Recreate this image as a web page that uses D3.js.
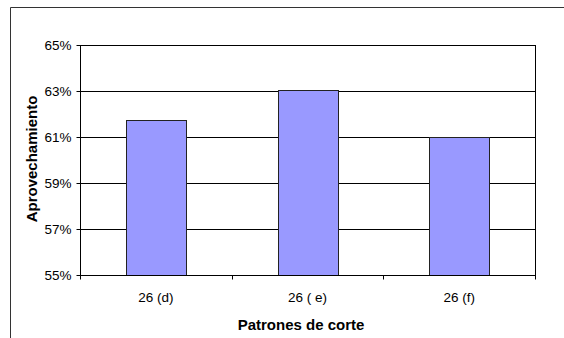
<!DOCTYPE html>
<html>
<head>
<meta charset="utf-8">
<script src="https://cdn.jsdelivr.net/npm/d3@7"></script>
<style>
  html, body { margin: 0; padding: 0; background: #fff; }
  svg { display: block; font-family: Arial, "Liberation Sans", sans-serif; }
</style>
</head>
<body>
<svg id="chart" width="564" height="338"></svg>
<script>
// Aprovechamiento por patrón de corte
const categories = ["26 (d)", "26 ( e)", "26 (f)"];
const values = [0.6172, 0.6306, 0.6101];
const yTicks = [0.55, 0.57, 0.59, 0.61, 0.63, 0.65];
const yTitle = "Aprovechamiento";
const xTitle = "Patrones de corte";

const svg = d3.select("#chart");
const W = 564, H = 338;
const plot = { left: 80, top: 45, right: 535, bottom: 275 };

// outer chart frame (left and top edges visible)
svg.append("path")
  .attr("d", `M10.5,${H} V7.5 H${W}`)
  .attr("fill", "none")
  .attr("stroke", "#333")
  .attr("stroke-width", 1);

const xOuter = d3.scaleBand()
  .domain(categories)
  .range([plot.left, plot.right])
  .padding(0);

const y = d3.scaleLinear()
  .domain([0.55, 0.65])
  .range([plot.bottom, plot.top]);

// horizontal gridlines
svg.append("g")
  .selectAll("line")
  .data(yTicks)
  .join("line")
  .attr("x1", plot.left)
  .attr("x2", plot.right)
  .attr("y1", d => Math.round(y(d)) + 0.5)
  .attr("y2", d => Math.round(y(d)) + 0.5)
  .attr("stroke", "#000")
  .attr("stroke-width", 1);

// right border of plot area
svg.append("line")
  .attr("x1", plot.right + 0.5).attr("x2", plot.right + 0.5)
  .attr("y1", plot.top).attr("y2", plot.bottom)
  .attr("stroke", "#000");

// bars
svg.append("g")
  .selectAll("rect")
  .data(values)
  .join("rect")
  .attr("x", (d, i) => Math.round(xOuter(categories[i]) + xOuter.bandwidth() / 2 - 30) + 0.5)
  .attr("width", 60)
  .attr("y", d => Math.round(y(d)) + 0.5)
  .attr("height", d => plot.bottom - Math.round(y(d)))
  .attr("fill", "#9999ff")
  .attr("stroke", "#222")
  .attr("stroke-width", 1);

// y axis
const yAxis = d3.axisLeft(y)
  .tickValues(yTicks)
  .tickFormat(d3.format(".0%"))
  .tickSize(4)
  .tickPadding(5);
const gy = svg.append("g")
  .attr("transform", `translate(${plot.left + 0.5},0)`)
  .call(yAxis);
gy.selectAll(".tick").attr("transform", d => `translate(0,${Math.round(y(d)) + 0.5})`);
gy.select(".domain").attr("d", `M0,${plot.top} V${plot.bottom + 0.5}`).attr("stroke", "#000");
gy.selectAll(".tick line").attr("stroke", "#000");
gy.selectAll(".tick text")
  .attr("font-size", 13.5)
  .attr("font-family", "Arial, 'Liberation Sans', sans-serif")
  .attr("fill", "#000");

// x axis: ticks at category boundaries
const gx = svg.append("g")
  .attr("transform", `translate(0,${plot.bottom + 0.5})`);
gx.append("line")
  .attr("x1", plot.left).attr("x2", plot.right + 1)
  .attr("stroke", "#000");
const bounds = categories.map(c => xOuter(c)).concat([plot.right]);
gx.selectAll("line.tk")
  .data(bounds)
  .join("line")
  .attr("class", "tk")
  .attr("x1", d => Math.round(d) + 0.5)
  .attr("x2", d => Math.round(d) + 0.5)
  .attr("y1", 0).attr("y2", 4)
  .attr("stroke", "#000");
gx.selectAll("text")
  .data(categories)
  .join("text")
  .attr("x", d => xOuter(d) + xOuter.bandwidth() / 2)
  .attr("y", 26.5)
  .attr("text-anchor", "middle")
  .attr("font-size", 13.5)
  .attr("fill", "#000")
  .text(d => d);

// axis titles
svg.append("text")
  .attr("x", 301)
  .attr("y", 330)
  .attr("text-anchor", "middle")
  .attr("font-size", 15)
  .attr("font-weight", "bold")
  .text(xTitle);

svg.append("text")
  .attr("transform", `translate(37,159) rotate(-90)`)
  .attr("text-anchor", "middle")
  .attr("font-size", 15)
  .attr("font-weight", "bold")
  .text(yTitle);
</script>
</body>
</html>
